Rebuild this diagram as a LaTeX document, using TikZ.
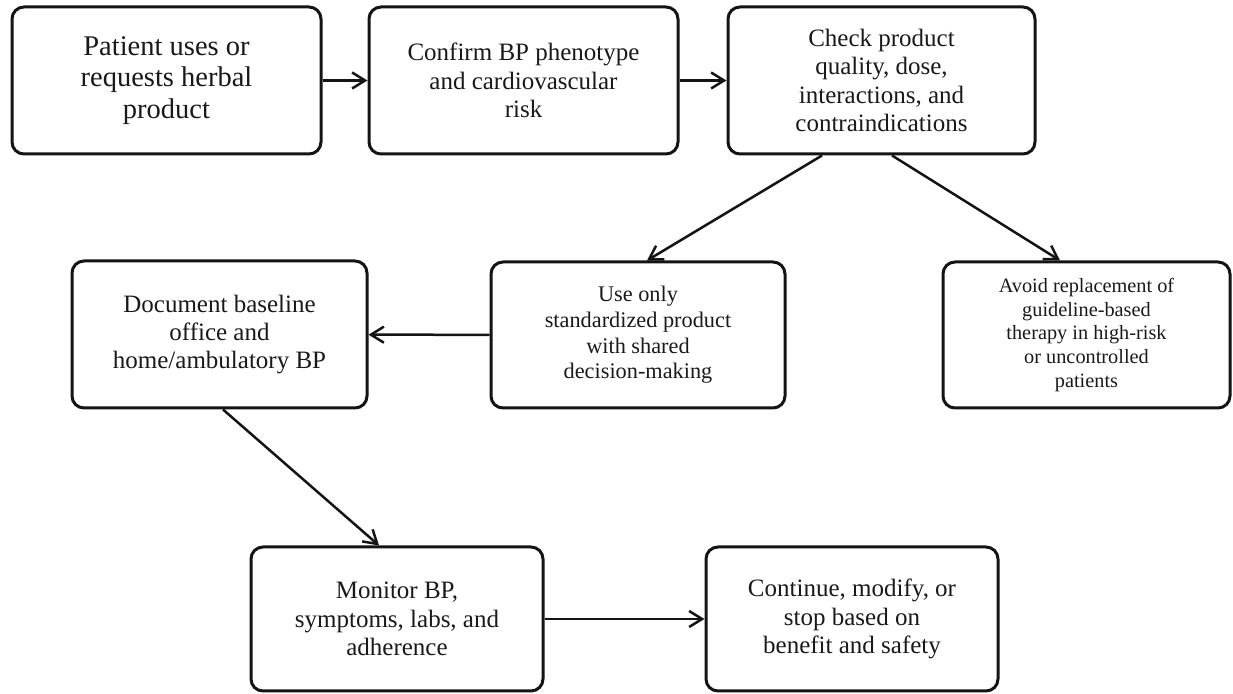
\documentclass[tikz,border=0pt]{standalone}
\usepackage{fontspec}
\setmainfont{Liberation Serif}
\usetikzlibrary{arrows.meta,calc}
\begin{document}
\begin{tikzpicture}[x=0.5pt,y=-0.5pt,
  box/.style={draw=black!92, line width=1.5pt, rounded corners=6pt, align=center, inner sep=0pt, text=black!90},
  bigtext/.style={font=\fontsize{14.25}{15.85}\selectfont},
  midtext/.style={font=\fontsize{12.5}{14.15}\selectfont},
  smalltext/.style={font=\fontsize{11.15}{12.85}\selectfont},
  tinytext/.style={font=\fontsize{10.15}{11.85}\selectfont},
  conn/.style={draw=black!92, line width=1.25pt, -{Straight Barb[length=6.5pt,width=8pt,line width=1.25pt]}}
]
\useasboundingbox (0,0) rectangle (1233,694);
\node[box, bigtext, minimum width=154.5pt, minimum height=73.5pt] (b1) at (166.5,80.5) {Patient uses or\\requests herbal\\product};
\node[box, midtext, minimum width=154.5pt, minimum height=73.5pt] (b2) at (523.5,80.5) {Confirm BP phenotype\\and cardiovascular\\risk};
\node[box, midtext, minimum width=153.5pt, minimum height=73.5pt] (b3) at (881.5,80.5) {Check product\\quality, dose,\\interactions, and\\contraindications};
\node[box, midtext, minimum width=147.5pt, minimum height=73.5pt] (b4) at (219.5,334.5) {Document baseline\\office and\\home/ambulatory BP};
\node[box, smalltext, minimum width=147pt, minimum height=73pt] (b5) at (638,335) {Use only\\standardized product\\with shared\\decision-making};
\node[box, tinytext, minimum width=143.5pt, minimum height=73pt] (b6) at (1086.5,335) {Avoid replacement of\\guideline-based\\therapy in high-risk\\or uncontrolled\\patients};
\node[box, midtext, minimum width=146pt, minimum height=72pt] (b7) at (397,619) {Monitor BP,\\symptoms, labs, and\\adherence};
\node[box, midtext, minimum width=146pt, minimum height=72pt] (b8) at (852,619) {Continue, modify, or\\stop based on\\benefit and safety};
\draw[conn] (b1) -- (b2);
\draw[conn] (b2) -- (b3);
\draw[conn] ($(b3.south)+(-59.5,0)$) -- ($(b5.north)+(9,0)$);
\draw[conn] ($(b3.south)+(10.5,0)$) -- ($(b6.north)+(-26.5,0)$);
\draw[conn] (b5) -- (b4);
\draw[conn] ($(b4.south)+(3.5,0)$) -- ($(b7.north)+(-18,0)$);
\draw[conn] (b7) -- (b8);
\end{tikzpicture}
\end{document}
